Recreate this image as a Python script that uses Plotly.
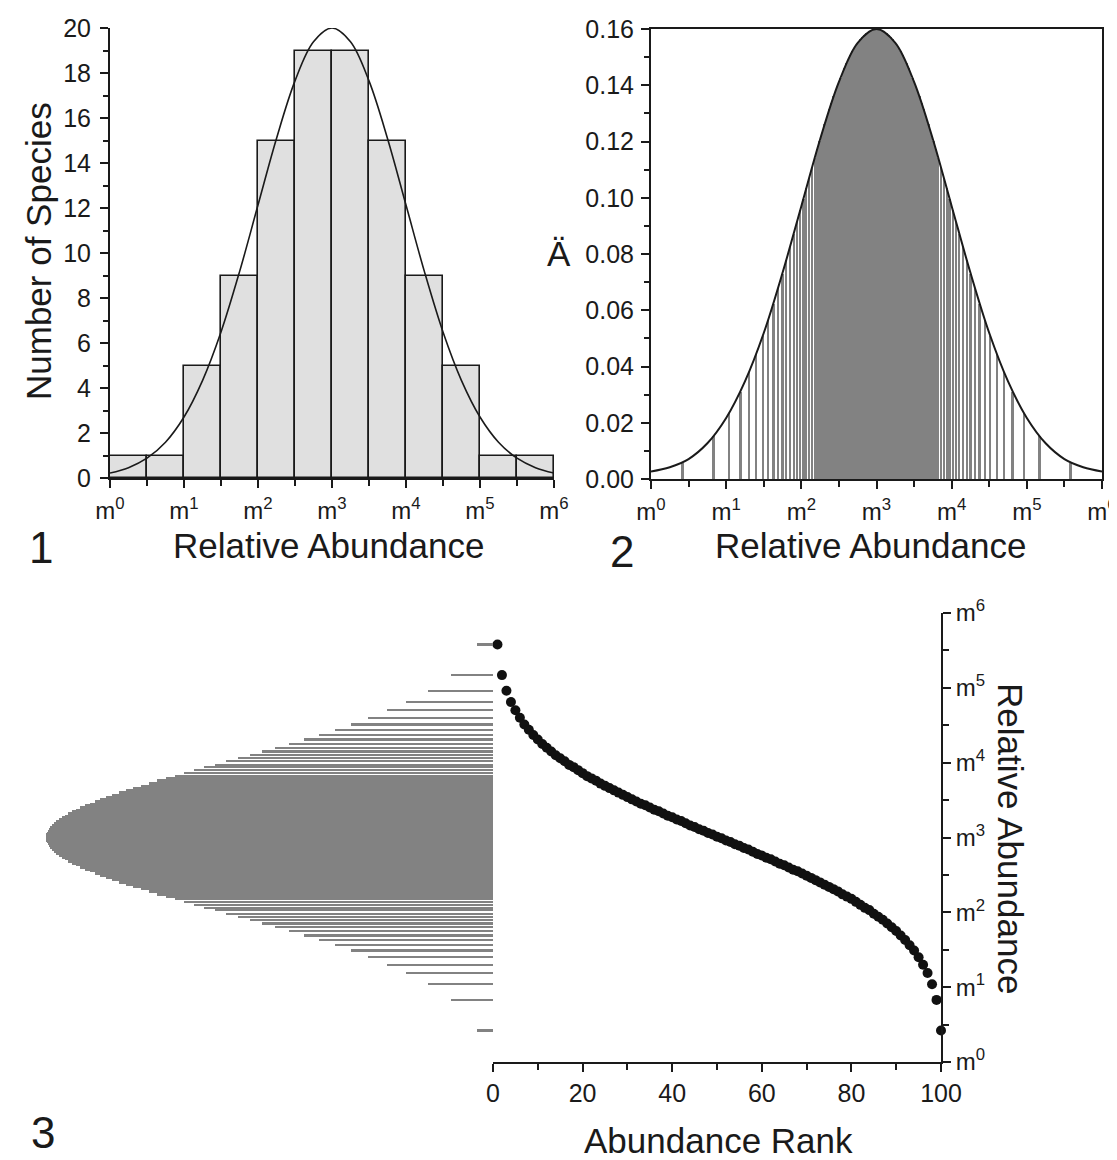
import plotly.graph_objects as go

W, H = 1117, 1160


def px(x):
    return x / W


def py(y):
    return 1 - y / H


FONT = "Liberation Sans, Arial, Helvetica, sans-serif"
INK = "#1a1a1a"
GRAY = "#828282"

# ---------------- data ----------------
octave_vals = [0, 1, 2, 3, 4, 5, 6]
octave_labels = ["m<sup>0</sup>", "m<sup>1</sup>", "m<sup>2</sup>", "m<sup>3</sup>",
                 "m<sup>4</sup>", "m<sup>5</sup>", "m<sup>6</sup>"]
half_octaves = [0.5, 1.5, 2.5, 3.5, 4.5, 5.5]

# panel 1: histogram of species per half-octave
bin_centers = [0.25, 0.75, 1.25, 1.75, 2.25, 2.75, 3.25, 3.75, 4.25, 4.75, 5.25, 5.75]
species_counts = [1, 1, 5, 9, 15, 19, 19, 15, 9, 5, 1, 1]

curve_x = [0, 0.25, 0.5, 0.75, 1.0, 1.25, 1.5, 1.75, 2.0, 2.25, 2.5, 2.75, 3.0,
           3.25, 3.5, 3.75, 4.0, 4.25, 4.5, 4.75, 5.0, 5.25, 5.5, 5.75, 6.0]
curve1_y = [0.22, 0.46, 0.88, 1.59, 2.71, 4.33, 6.49, 9.16, 12.13, 15.09, 17.65, 19.39, 20.0,
            19.39, 17.65, 15.09, 12.13, 9.16, 6.49, 4.33, 2.71, 1.59, 0.88, 0.46, 0.22]

# panel 2: density curve
curve2_y = [0.0027, 0.0042, 0.0071, 0.0127, 0.0217, 0.0347, 0.0519, 0.0733, 0.0970, 0.1208,
            0.1412, 0.1551, 0.1600, 0.1551, 0.1412, 0.1208, 0.0970, 0.0733, 0.0519, 0.0347,
            0.0217, 0.0127, 0.0071, 0.0042, 0.0027]

# species: rank, log-abundance (octaves of m), density at that abundance
ranks = list(range(1, 101))
log_abund = [5.58, 5.17, 4.96, 4.81, 4.70, 4.60, 4.51, 4.44, 4.37, 4.31,
             4.25, 4.20, 4.15, 4.10, 4.06, 4.02, 3.97, 3.94, 3.90, 3.86,
             3.82, 3.79, 3.76, 3.72, 3.69, 3.66, 3.63, 3.60, 3.57, 3.54,
             3.51, 3.48, 3.45, 3.43, 3.40, 3.37, 3.35, 3.32, 3.29, 3.27,
             3.24, 3.22, 3.19, 3.16, 3.14, 3.11, 3.09, 3.06, 3.04, 3.01,
             2.99, 2.96, 2.94, 2.91, 2.89, 2.86, 2.84, 2.81, 2.78, 2.76,
             2.73, 2.71, 2.68, 2.65, 2.63, 2.60, 2.57, 2.55, 2.52, 2.49,
             2.46, 2.43, 2.40, 2.37, 2.34, 2.31, 2.28, 2.24, 2.21, 2.18,
             2.14, 2.10, 2.06, 2.03, 1.98, 1.94, 1.90, 1.85, 1.80, 1.75,
             1.69, 1.63, 1.56, 1.49, 1.40, 1.30, 1.19, 1.04, 0.83, 0.42]
density = [0.0058, 0.0152, 0.0234, 0.0310, 0.0380, 0.0446, 0.0509, 0.0567, 0.0624, 0.0678,
           0.0729, 0.0779, 0.0826, 0.0871, 0.0914, 0.0956, 0.0996, 0.1034, 0.1071, 0.1105,
           0.1140, 0.1172, 0.1203, 0.1232, 0.1261, 0.1288, 0.1314, 0.1338, 0.1362, 0.1384,
           0.1405, 0.1425, 0.1443, 0.1461, 0.1478, 0.1493, 0.1508, 0.1521, 0.1533, 0.1544,
           0.1555, 0.1563, 0.1572, 0.1579, 0.1585, 0.1590, 0.1594, 0.1597, 0.1599, 0.1600,
           0.1600, 0.1599, 0.1597, 0.1594, 0.1590, 0.1585, 0.1579, 0.1572, 0.1563, 0.1555,
           0.1544, 0.1533, 0.1521, 0.1508, 0.1493, 0.1478, 0.1461, 0.1443, 0.1425, 0.1405,
           0.1384, 0.1362, 0.1338, 0.1314, 0.1288, 0.1261, 0.1232, 0.1203, 0.1172, 0.1140,
           0.1105, 0.1071, 0.1034, 0.0996, 0.0956, 0.0914, 0.0871, 0.0826, 0.0779, 0.0729,
           0.0678, 0.0624, 0.0567, 0.0509, 0.0446, 0.0380, 0.0310, 0.0234, 0.0152, 0.0058]

# ---------------- traces ----------------
fig = go.Figure()

# Panel 1
fig.add_trace(go.Bar(x=bin_centers, y=species_counts, width=0.5,
                     marker=dict(color="#e0e0e0", line=dict(color=INK, width=1.6)),
                     xaxis="x", yaxis="y", showlegend=False))
fig.add_trace(go.Scatter(x=curve_x, y=curve1_y, mode="lines",
                         line=dict(color=INK, width=1.6, shape="spline"),
                         xaxis="x", yaxis="y", showlegend=False, cliponaxis=False))

# Panel 2: one thin bar per species
fig.add_trace(go.Bar(x=log_abund, y=density, width=0.031,
                     marker=dict(color=GRAY, line=dict(width=0)),
                     xaxis="x2", yaxis="y2", showlegend=False))
fig.add_trace(go.Scatter(x=curve_x, y=curve2_y, mode="lines",
                         line=dict(color=INK, width=2, shape="spline"),
                         xaxis="x2", yaxis="y2", showlegend=False, cliponaxis=False))

# Panel 3 left: one thin horizontal bar per species
fig.add_trace(go.Bar(x=density, y=log_abund, orientation="h", width=0.031,
                     marker=dict(color=GRAY, line=dict(width=0)),
                     xaxis="x4", yaxis="y3", showlegend=False))

# Panel 3 rank-abundance
fig.add_trace(go.Scatter(x=ranks, y=log_abund, mode="markers",
                         marker=dict(color="#111111", size=10, line=dict(width=0)),
                         xaxis="x3", yaxis="y3", showlegend=False, cliponaxis=False))

num_tickfont = dict(family=FONT, size=25, color=INK)
oct_tickfont = dict(family=FONT, size=24, color=INK)
minor_oct = dict(tickvals=half_octaves, ticks="outside", ticklen=6, tickwidth=2, tickcolor=INK)
common = dict(showline=True, linecolor=INK, linewidth=2, ticks="outside", ticklen=8,
              tickwidth=2, tickcolor=INK, showgrid=False, zeroline=False, automargin=False)

fig.update_layout(
    template="none",
    width=W, height=H, margin=dict(l=0, r=0, t=0, b=0, pad=0, autoexpand=False),
    paper_bgcolor="white", plot_bgcolor="white", bargap=0,
    font=dict(family=FONT, color=INK), showlegend=False,
    xaxis=dict(domain=[px(102), px(546)], anchor="y", range=[0, 6], tickvals=octave_vals,
               ticktext=octave_labels, minor=minor_oct, tickfont=oct_tickfont,
               ticklabelstandoff=2, **common),
    yaxis=dict(domain=[py(470), py(20)], anchor="x", range=[0, 20], dtick=2,
               minor=dict(dtick=1, ticks="outside", ticklen=5, tickwidth=2, tickcolor=INK),
               tickfont=num_tickfont, ticklabelstandoff=4, **common),
    xaxis2=dict(domain=[px(643), px(1094)], anchor="y2", range=[0, 6], tickvals=octave_vals,
                ticktext=octave_labels, mirror=True, minor=minor_oct, tickfont=oct_tickfont,
                ticklabelstandoff=2, **common),
    yaxis2=dict(domain=[py(471), py(21)], anchor="x2", range=[0, 0.16], dtick=0.02,
                tickformat=".2f", mirror=True, tickfont=num_tickfont, ticklabelstandoff=2,
                minor=dict(dtick=0.01, ticks="outside", ticklen=5, tickwidth=2, tickcolor=INK),
                **common),
    xaxis3=dict(domain=[px(485), px(933)], anchor="y3", range=[0, 100], dtick=20,
                tickfont=num_tickfont,
                minor=dict(dtick=10, ticks="outside", ticklen=6, tickwidth=2, tickcolor=INK),
                **common),
    yaxis3=dict(domain=[py(1054), py(605)], anchor="x3", side="right", range=[0, 6],
                tickvals=octave_vals, ticktext=octave_labels, minor=minor_oct,
                tickfont=oct_tickfont, **common),
    yaxis4=dict(overlaying="y3", anchor="x3", side="left", range=[0, 6], tickvals=[0],
                showticklabels=False, **common),
    xaxis4=dict(domain=[px(38), px(485)], anchor="y3", range=[0.16, 0], visible=False,
                automargin=False),
    xaxis5=dict(overlaying="x3", anchor="y3", side="top", range=[0, 100], showline=True,
                linecolor="#d9d9d9", linewidth=1.5, ticks="", showticklabels=False,
                showgrid=False, zeroline=False, automargin=False),
)

title_font = dict(family=FONT, size=35, color=INK)
num_font = dict(family=FONT, size=44, color=INK)
ann = [
    dict(text="Number of Species", x=px(30), y=py(243), textangle=-90, font=title_font),
    dict(text="Relative Abundance", x=px(320), y=py(537), font=title_font),
    dict(text="1", x=px(33), y=py(540), font=num_font),
    dict(text="Ä", x=px(551), y=py(245), font=title_font),
    dict(text="Relative Abundance", x=px(862), y=py(537), font=title_font),
    dict(text="2", x=px(614), y=py(543), font=num_font),
    dict(text="Abundance Rank", x=px(710), y=py(1132), font=title_font),
    dict(text="Relative Abundance", x=px(1003), y=py(830), textangle=90, font=title_font),
    dict(text="3", x=px(35), y=py(1124), font=num_font),
]
for a in ann:
    a.update(xref="paper", yref="paper", showarrow=False, xanchor="center", yanchor="middle")
fig.update_layout(annotations=ann)

fig.write_html("out.html")
